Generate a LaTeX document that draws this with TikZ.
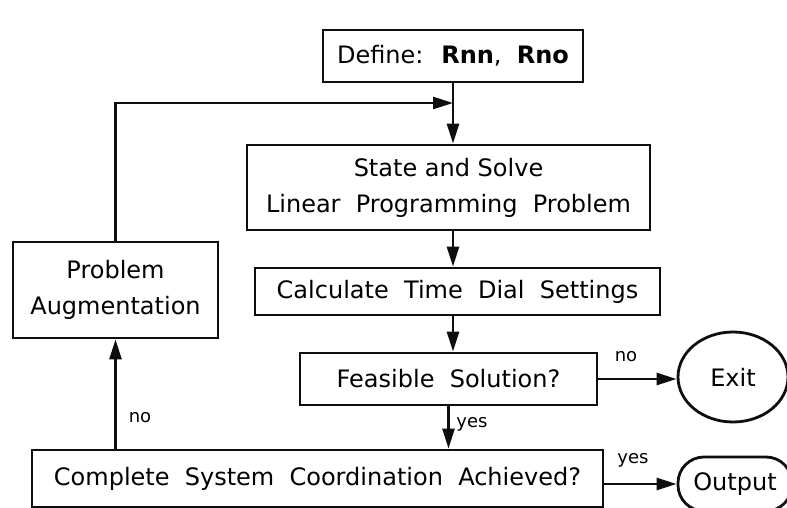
\documentclass[tikz,border=0pt]{standalone}
\usepackage{fontspec}
\setmainfont{DejaVu Sans}
\usetikzlibrary{arrows.meta,positioning,shapes.geometric}
\definecolor{ink}{RGB}{14,14,14}

\begin{document}
\begin{tikzpicture}[x=1pt,y=-1pt]
        \tikzstyle{flowbox}=[draw=ink,line width=2.8pt,align=center,inner sep=0pt,font=\fontsize{24}{36}\selectfont]
        \tikzstyle{flowarrow}=[-{Triangle[length=20pt,width=12pt]},ink,line width=2.6pt]
        \tikzstyle{tag}=[font=\fontsize{18}{20}\selectfont]
        \useasboundingbox (0,0) rectangle (787,508);
        \node[flowbox,minimum width=260pt,minimum height=52pt] (define) at (453,56) {Define:~ \textbf{Rnn},~ \textbf{Rno}};
        \node[flowbox,minimum width=403pt,minimum height=85pt] (state) at (448.5,187.5) {State and Solve\\Linear~ Programming~ Problem};
        \node[flowbox,minimum width=405pt,minimum height=47pt] (calc) at (457.5,291.5) {Calculate~ Time~ Dial~ Settings};
        \node[flowbox,minimum width=297pt,minimum height=52pt] (feas) at (448.5,379) {Feasible~ Solution?};
        \node[flowbox,minimum width=571pt,minimum height=57pt] (complete) at (317.5,478.5) {Complete~ System~ Coordination~ Achieved?};
        \node[flowbox,minimum width=205pt,minimum height=96pt] (aug) at (115.5,290) {Problem\\Augmentation};
        \node[flowbox,ellipse,minimum width=110pt,minimum height=90pt] (exit) at (733,377) {Exit};
        \node[flowbox,rounded corners=26pt,minimum width=114pt,minimum height=54pt] (output) at (735,484) {Output};
        \coordinate (join) at (453,103);
        \coordinate (corner) at (aug.north |- join);
        \draw[flowarrow] (define.south -| join) -- (state.north -| join);
        \draw[flowarrow] (aug.north) -- (corner) -- (join);
        \draw[flowarrow] (state.south -| join) -- (calc.north -| join);
        \draw[flowarrow] (calc.south -| join) -- (feas.north -| join);
        \draw[flowarrow] (feas.south) -- (feas.south |- complete.north);
        \draw[flowarrow] (feas.east) -- (feas.east -| exit.west);
        \draw[flowarrow] (complete.east |- output.west) -- (output.west);
        \draw[flowarrow] (aug.south |- complete.north) -- (aug.south);
        \node[tag] (nofeas) at (626,357) {no};
        \node[tag] (yesfeas) at (472,424) {yes};
        \node[tag] (yesdone) at (633,460) {yes};
        \node[tag] (nodone) at (140,418) {no};
\end{tikzpicture}
\end{document}
